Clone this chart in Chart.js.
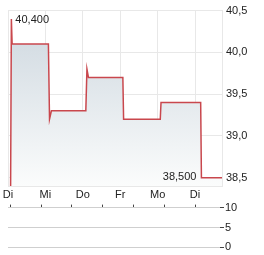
<!DOCTYPE html>
<html>
<head>
<meta charset="utf-8">
<script src="https://cdn.jsdelivr.net/npm/chart.js@4"></script>
<style>
  body { margin: 0; background: #fff; }
  #wrap { position: relative; width: 264px; height: 255px; }
  canvas { position: absolute; left: 0; }
</style>
</head>
<body>
<div id="wrap">
  <canvas id="priceChart" width="264" height="200" style="top:0"></canvas>
  <canvas id="volChart" width="264" height="55" style="top:200px"></canvas>
</div>
<script>
// day labels (x = day index), price step line
const dayLabels = ['Di', 'Mi', 'Do', 'Fr', 'Mo', 'Di'];
const priceX = [0.07, 0.09, 0.11, 1.08, 1.11, 1.16, 2.08, 2.11, 2.15, 3.07, 3.09, 4.07, 4.09, 5.15, 5.17, 5.72];
const priceY = [38.4, 40.4, 40.1, 40.1, 39.2, 39.3, 39.3, 39.8, 39.7, 39.7, 39.2, 39.2, 39.4, 39.4, 38.5, 38.5];
const priceTicks = [38.5, 39.0, 39.5, 40.0, 40.5];
const volTicks = [0, 5, 10];
const highLabel = '40,400';
const lowLabel = '38,500';

const gridColor = '#e8e8e8';
const textColor = '#222';
const font = { family: 'Arial, "Liberation Sans", sans-serif', size: 11 };

const fmt = v => v.toFixed(1).replace('.', ',');

// draws the high / low value next to the line
const extremesPlugin = {
    id: 'extremes',
    afterDatasetsDraw(chart) {
        const meta = chart.getDatasetMeta(0);
        const ys = priceY;
        const hi = ys.indexOf(Math.max(...ys));
        const lo = ys.indexOf(38.5);
        const c = chart.ctx;
        c.save();
        c.font = '11px Arial, "Liberation Sans", sans-serif';
        c.fillStyle = textColor;
        c.textBaseline = 'middle';
        c.textAlign = 'left';
        c.fillText(highLabel, meta.data[hi].x + 4, meta.data[hi].y + 1);
        c.textAlign = 'right';
        c.fillText(lowLabel, meta.data[lo].x - 5, meta.data[lo].y - 1);
        c.restore();
    }
};

new Chart(document.getElementById('priceChart'), {
    type: 'line',
    data: {
        datasets: [{
            data: priceX.map((x, i) => ({ x: x, y: priceY[i] })),
            borderColor: '#c9474d',
            borderWidth: 1.5,
            pointRadius: 0,
            tension: 0,
            fill: 'start',
            backgroundColor: ctx => {
                const area = ctx.chart.chartArea;
                if (!area) return '#dde3e8';
                const g = ctx.chart.ctx.createLinearGradient(0, area.top, 0, area.bottom);
                g.addColorStop(0, '#ccd6de');
                g.addColorStop(1, '#fbfcfc');
                return g;
            }
        }]
    },
    options: {
        responsive: false,
        animation: false,
        layout: { padding: { left: 8, top: 9, right: 0, bottom: 0 } },
        plugins: { legend: { display: false }, tooltip: { enabled: false } },
        scales: {
            x: {
                type: 'linear',
                min: 0,
                max: 5.72,
                afterBuildTicks: s => { s.ticks = dayLabels.map((d, i) => ({ value: i })); },
                afterFit: s => { s.height = 14; },
                grid: { color: gridColor, drawTicks: false },
                border: { color: gridColor },
                ticks: {
                    padding: 2,
                    color: textColor,
                    font: font,
                    maxRotation: 0,
                    autoSkip: false,
                    callback: v => dayLabels[v]
                }
            },
            y: {
                position: 'right',
                min: 38.4,
                max: 40.5,
                afterBuildTicks: s => { s.ticks = priceTicks.map(v => ({ value: v })); },
                afterFit: s => { s.width = 42; },
                grid: { color: gridColor, drawTicks: false },
                border: { color: gridColor },
                ticks: { padding: 4, color: textColor, font: font, callback: v => fmt(v) }
            }
        }
    },
    plugins: [extremesPlugin]
});

// empty volume panel below
new Chart(document.getElementById('volChart'), {
    type: 'bar',
    data: { datasets: [{ data: [] }] },
    options: {
        responsive: false,
        animation: false,
        layout: { padding: { left: 8, top: 0, right: 0, bottom: 0 } },
        plugins: { legend: { display: false }, tooltip: { enabled: false } },
        scales: {
            x: {
                type: 'linear',
                position: 'top',
                min: 0,
                max: 5.72,
                afterBuildTicks: s => { s.ticks = dayLabels.map((d, i) => ({ value: i })); },
                afterFit: s => { s.height = 7; },
                grid: { drawOnChartArea: false, drawTicks: true, tickLength: 3, color: '#444' },
                border: { display: false },
                ticks: { display: false }
            },
            y: {
                position: 'right',
                min: 0,
                max: 10,
                afterBuildTicks: s => { s.ticks = volTicks.map(v => ({ value: v })); },
                afterFit: s => { s.width = 44; },
                grid: { color: '#cfcfcf', tickColor: '#444', tickLength: 4 },
                border: { display: false },
                ticks: { padding: 1, color: textColor, font: font }
            }
        }
    }
});
</script>
</body>
</html>
